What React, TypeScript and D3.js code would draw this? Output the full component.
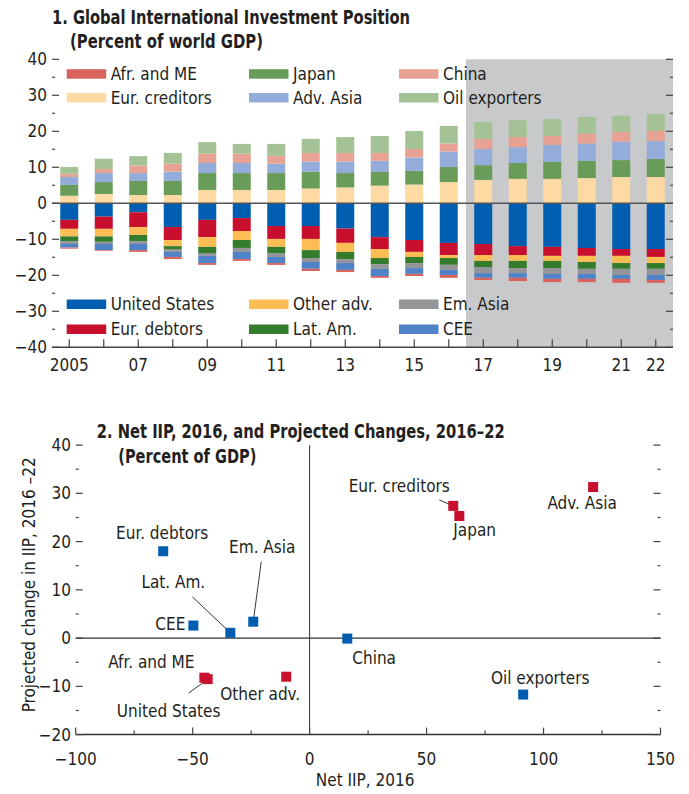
import React from "react";
import * as d3 from "d3";

// ---------- Panel 1 data ----------
const years = [2005, 2006, 2007, 2008, 2009, 2010, 2011, 2012, 2013, 2014, 2015, 2016, 2017, 2018, 2019, 2020, 2021, 2022];
const yearTickLabels = ["2005", "07", "09", "11", "13", "15", "17", "19", "21", "22"];
const yearTickValues = [2005, 2007, 2009, 2011, 2013, 2015, 2017, 2019, 2021, 2022];

const eurCreditors = [2.1, 2.6, 2.3, 2.3, 3.7, 3.7, 3.7, 4.1, 4.4, 4.9, 5.2, 5.9, 6.5, 6.8, 6.8, 7.0, 7.3, 7.3];
const japan = [3.0, 3.3, 3.9, 3.9, 4.7, 4.7, 4.7, 4.7, 4.0, 3.8, 3.8, 4.2, 4.1, 4.4, 4.7, 4.8, 4.7, 5.0];
const advAsia = [2.2, 2.5, 2.2, 2.6, 2.8, 2.8, 2.6, 2.8, 3.2, 3.1, 3.7, 4.3, 4.5, 4.4, 4.7, 4.8, 5.1, 5.0];
const china = [0.9, 1.1, 2.1, 2.2, 2.6, 2.6, 2.2, 2.4, 2.4, 2.2, 2.4, 2.2, 2.8, 2.8, 2.6, 2.8, 2.8, 2.8];
const oilExporters = [1.9, 2.9, 2.6, 3.0, 3.2, 2.7, 3.3, 3.9, 4.4, 4.7, 5.0, 4.9, 4.7, 4.7, 4.6, 4.6, 4.4, 4.7];

const unitedStates = [-4.6, -3.7, -2.5, -6.6, -4.6, -4.1, -6.3, -6.3, -7.0, -9.4, -10.2, -11.0, -11.3, -11.9, -12.1, -12.4, -12.7, -12.7];
const eurDebtors = [-2.5, -3.4, -4.1, -3.6, -4.8, -3.6, -3.6, -3.6, -4.0, -3.3, -3.3, -3.4, -3.1, -2.5, -2.5, -2.2, -1.9, -2.2];
const otherAdv = [-2.1, -2.1, -2.2, -1.7, -2.7, -2.5, -2.2, -3.1, -2.5, -2.5, -1.4, -0.8, -1.6, -1.6, -1.4, -1.7, -2.0, -1.7];
const latAm = [-1.3, -1.5, -1.7, -0.8, -1.7, -2.2, -1.7, -2.2, -2.0, -1.7, -1.7, -1.9, -1.7, -2.0, -2.0, -1.9, -1.6, -1.6];
const emAsia = [-0.8, -0.6, -0.8, -0.8, -0.8, -1.1, -1.1, -1.1, -1.1, -1.3, -1.4, -1.4, -1.7, -1.4, -1.6, -1.4, -1.7, -1.7];
const cee = [-1.0, -1.7, -1.7, -1.4, -2.0, -2.0, -1.7, -1.9, -1.9, -2.0, -1.6, -1.4, -1.3, -1.3, -1.4, -1.4, -1.1, -1.4];
const afrME = [-0.3, -0.2, -0.5, -0.6, -0.5, -0.5, -0.5, -0.6, -0.6, -0.5, -0.6, -0.8, -0.6, -0.9, -0.9, -0.9, -1.1, -0.8];

const seriesKeys = ["eurCreditors", "japan", "advAsia", "china", "oilExporters", "unitedStates", "eurDebtors", "otherAdv", "latAm", "emAsia", "cee", "afrME"];
const seriesValues: Record<string, number[]> = { eurCreditors, japan, advAsia, china, oilExporters, unitedStates, eurDebtors, otherAdv, latAm, emAsia, cee, afrME };
const seriesNames: Record<string, string> = {
  eurCreditors: "Eur. creditors", japan: "Japan", advAsia: "Adv. Asia", china: "China", oilExporters: "Oil exporters",
  unitedStates: "United States", eurDebtors: "Eur. debtors", otherAdv: "Other adv.", latAm: "Lat. Am.", emAsia: "Em. Asia", cee: "CEE", afrME: "Afr. and ME",
};
const seriesColors: Record<string, string> = {
  eurCreditors: "#fdd9a3", japan: "#6a9c59", advAsia: "#93acd9", china: "#e8a294", oilExporters: "#a4c295",
  unitedStates: "#005eb0", eurDebtors: "#c8102e", otherAdv: "#fdbd55", latAm: "#327c2c", emAsia: "#939598", cee: "#4f82c6", afrME: "#d8625c",
};
const legendTop = [["afrME", "japan", "china"], ["eurCreditors", "advAsia", "oilExporters"]];
const legendBottom = [["unitedStates", "otherAdv", "emAsia"], ["eurDebtors", "latAm", "cee"]];
const projectionStartYear = 2017;

// ---------- Panel 2 data ----------
const scatterNames = ["Eur. debtors", "Em. Asia", "Lat. Am.", "CEE", "Afr. and ME", "United States", "Other adv.", "China", "Oil exporters", "Eur. creditors", "Japan", "Adv. Asia"];
const netIIP2016 = [-62.6, -24.1, -33.9, -49.7, -45.0, -43.6, -10.0, 16.1, 91.3, 61.4, 64.0, 121.2];
const projChange = [18.0, 3.4, 1.1, 2.6, -8.2, -8.5, -8.0, -0.1, -11.7, 27.4, 25.3, 31.3];
const scatterGroup = ["blue", "blue", "blue", "blue", "red", "red", "red", "blue", "blue", "red", "red", "red"];
// label placement: [dx, dy, anchor] in px from point, optional leader [x1,y1,x2,y2]
const labelPlacement: [number, number, string, number[] | null][] = [
  [-1, -12, "middle", null],
  [9, -69, "middle", [8, -60, 0, 0]],
  [-57, -45, "middle", [-38, -36, 0, 0]],
  [-8, 4, "end", null],
  [-53, -10, "middle", null],
  [-39, 38, "middle", [-19, 14, 3, -2]],
  [-26, 23, "middle", null],
  [5, 25, "start", null],
  [17, -11, "middle", null],
  [-54, -14, "middle", [-14, -6, 0, 0]],
  [-6, 20, "start", null],
  [-11, 22, "middle", null],
];
const pointColors: Record<string, string> = { red: "#c8102e", blue: "#005eb0" };

const FONT = "'DejaVu Sans Condensed', 'DejaVu Sans', sans-serif";
const TXT = "#231f20";
const fmt = (v: number) => (v < 0 ? "\u2212" + Math.abs(v) : String(v));

export default function App() {
  // ---- Panel 1 scales ----
  const x1 = d3.scaleBand<string>().domain(years.map(String)).range([52, 673]).paddingInner(0.478).paddingOuter(0.239);
  const y1 = d3.scaleLinear().domain([-40, 40]).range([347.3, 59.3]);
  const table = years.map((yr, i) => {
    const row: any = { year: String(yr) };
    seriesKeys.forEach((k) => (row[k] = seriesValues[k][i]));
    return row;
  });
  const stacked = d3.stack<any>().keys(seriesKeys).offset(d3.stackOffsetDiverging)(table);
  const bw = x1.bandwidth();
  const step = x1.step();
  const shadeX = (x1(String(projectionStartYear)) as number) - (step - bw) / 2;
  const [p1L, p1R] = x1.range();
  const y1Ticks = d3.range(-40, 41, 5);

  // ---- Panel 2 scales ----
  const x2 = d3.scaleLinear().domain([-100, 150]).range([75.7, 660.5]);
  const y2 = d3.scaleLinear().domain([-20, 40]).range([734.6, 445.1]);
  const x2Ticks = d3.range(-100, 151, 25);
  const y2Ticks = d3.range(-20, 41, 5);
  const sq = 10;

  const legendCols = [66.7, 249, 399];

  const renderLegend = (rows: string[][], ys: number[]) =>
    rows.map((row, ri) =>
      row.map((k, ci) => (
        <g key={k}>
          <rect x={legendCols[ci]} y={ys[ri] - 4.5} width={39.5} height={9.5} fill={seriesColors[k]} />
          <text x={legendCols[ci] + 44} y={ys[ri]} dy="0.36em" fontSize={17} fill={TXT}>{seriesNames[k]}</text>
        </g>
      ))
    );

  const titleProps = { fontWeight: "bold", fontSize: 19, fill: TXT, lengthAdjust: "spacingAndGlyphs" } as any;

  return (
    <svg width={689} height={794} style={{ position: "absolute", left: 0, top: 0, background: "#fff" }}
      fontFamily={FONT} fontStretch="condensed">
      {/* ===== Panel 1 ===== */}
      <text x={52} y={24} textLength={358} {...titleProps}>1. Global International Investment Position</text>
      <text x={70} y={48} textLength={193} {...titleProps}>(Percent of world GDP)</text>

      <rect x={shadeX} y={y1(40)} width={p1R - shadeX} height={y1(-40) - y1(40)} fill="#c8c9cb" />

      {stacked.map((s) => (
        <g key={s.key} fill={seriesColors[s.key]}>
          {s.map((d, i) => (
            <rect key={i} x={x1(d.data.year)} width={bw} y={y1(Math.max(d[0], d[1]))} height={Math.abs(y1(d[0]) - y1(d[1]))} />
          ))}
        </g>
      ))}

      <line x1={p1L} x2={p1R} y1={y1(0)} y2={y1(0)} stroke="#555" strokeWidth={1.4} />
      <line x1={p1L} x2={p1R} y1={y1(-40)} y2={y1(-40)} stroke="#444" strokeWidth={1.5} />

      {y1Ticks.map((v) => {
        const major = v % 10 === 0;
        const len = major ? 7 : 3;
        return (
          <g key={v}>
            <line x1={p1L} x2={p1L + len} y1={y1(v)} y2={y1(v)} stroke="#444" strokeWidth={1.2} />
            <line x1={p1R - len} x2={p1R} y1={y1(v)} y2={y1(v)} stroke="#444" strokeWidth={1.2} />
            {major && (
              <text x={47} y={y1(v)} dy="0.36em" textAnchor="end" fontSize={17} fill={TXT}>{fmt(v)}</text>
            )}
          </g>
        );
      })}
      {years.map((yr) => {
        const cx = (x1(String(yr)) as number) + bw / 2;
        return <line key={yr} x1={cx} x2={cx} y1={y1(-40)} y2={y1(-40) - 8} stroke="#444" strokeWidth={1.2} />;
      })}
      {yearTickValues.map((yr, i) => (
        <text key={yr} x={(x1(String(yr)) as number) + bw / 2} y={371} textAnchor="middle" fontSize={17} fill={TXT}>{yearTickLabels[i]}</text>
      ))}

      {renderLegend(legendTop, [73.7, 97.5])}
      {renderLegend(legendBottom, [304, 329])}

      {/* ===== Panel 2 ===== */}
      <text x={96.7} y={437.7} textLength={408} {...titleProps}>2. Net IIP, 2016, and Projected Changes, 2016–22</text>
      <text x={118.3} y={463.3} textLength={138} {...titleProps}>(Percent of GDP)</text>

      <line x1={x2(0)} x2={x2(0)} y1={y2(40)} y2={y2(-20)} stroke="#333" strokeWidth={1} />
      <line x1={x2(-100)} x2={x2(150)} y1={y2(0)} y2={y2(0)} stroke="#333" strokeWidth={1.3} />
      <line x1={x2(-100)} x2={x2(150)} y1={y2(-20)} y2={y2(-20)} stroke="#333" strokeWidth={1.5} />

      {y2Ticks.map((v) => {
        const major = v % 10 === 0;
        const len = major ? 7 : 3;
        return (
          <g key={v}>
            <line x1={x2(-100)} x2={x2(-100) + len} y1={y2(v)} y2={y2(v)} stroke="#444" strokeWidth={1.2} />
            <line x1={x2(150) - len} x2={x2(150)} y1={y2(v)} y2={y2(v)} stroke="#444" strokeWidth={1.2} />
            {major && (
              <text x={71} y={y2(v)} dy="0.36em" textAnchor="end" fontSize={17} fill={TXT}>{fmt(v)}</text>
            )}
          </g>
        );
      })}
      {x2Ticks.map((v) => {
        const major = v % 50 === 0;
        const len = major ? 7 : 4;
        return (
          <g key={v}>
            <line x1={x2(v)} x2={x2(v)} y1={y2(-20)} y2={y2(-20) - len} stroke="#444" strokeWidth={1.2} />
            {major && (
              <text x={x2(v)} y={765} textAnchor="middle" fontSize={17} fill={TXT}>{fmt(v)}</text>
            )}
          </g>
        );
      })}
      <text x={(x2(-100) + x2(150)) / 2 - 3} y={786} textAnchor="middle" fontSize={17} fill={TXT}>Net IIP, 2016</text>
      <text transform={`translate(35, ${(y2(40) + y2(-20)) / 2 - 5}) rotate(-90)`} textAnchor="middle" fontSize={17} fill={TXT}>Projected change in IIP, 2016 –22</text>

      {scatterNames.map((name, i) => {
        const px = x2(netIIP2016[i]);
        const py = y2(projChange[i]);
        const [dx, dy, anchor, leader] = labelPlacement[i];
        return (
          <g key={name}>
            {leader && (
              <line x1={px + leader[0]} y1={py + leader[1]} x2={px + leader[2]} y2={py + leader[3]} stroke="#231f20" strokeWidth={0.9} />
            )}
            <rect x={px - sq / 2} y={py - sq / 2} width={sq} height={sq} fill={pointColors[scatterGroup[i]]} />
            <text x={px + dx} y={py + dy} textAnchor={anchor as any} fontSize={17} fill={TXT}>{name}</text>
          </g>
        );
      })}
    </svg>
  );
}
